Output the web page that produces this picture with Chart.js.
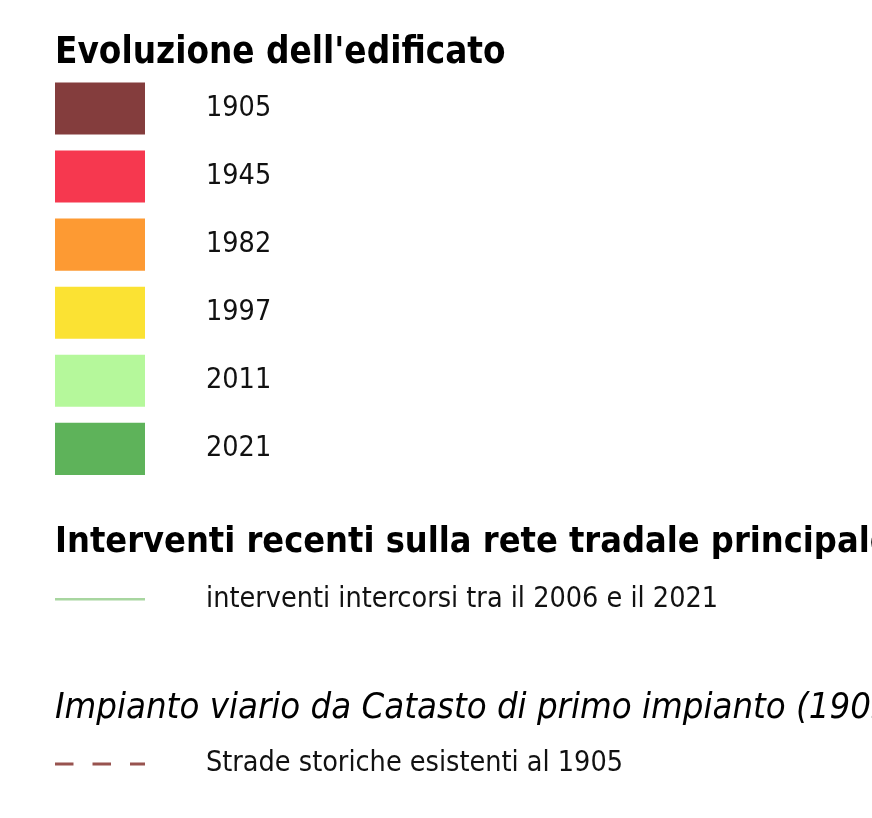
<!DOCTYPE html>
<html>
<head>
<meta charset="utf-8">
<script src="https://cdn.jsdelivr.net/npm/chart.js@4.4.1/dist/chart.umd.min.js"></script>
<style>
  html, body { margin: 0; padding: 0; background: #fff; width: 872px; height: 818px; overflow: hidden; }
  .box { position: absolute; left: 0; width: 960px; }
  #b1 { top: 0; height: 500px; }
  #b2 { top: 490px; height: 157px; }
  #b3 { top: 655px; height: 156px; }
</style>
</head>
<body>
<div class="box" id="b1"><canvas id="c1"></canvas></div>
<div class="box" id="b2"><canvas id="c2"></canvas></div>
<div class="box" id="b3"><canvas id="c3"></canvas></div>
<script>
// ====== legend data ======
const years = ['1905', '1945', '1982', '1997', '2011', '2021']
const yearColors = ['#843d3d', '#f6384f', '#fd9a33', '#fbe233', '#b5f89b', '#5eb35a']
const roadLabel = ['interventi intercorsi tra il 2006 e il 2021']
const roadColor = '#a8d6a0'
const histLabel = ['Strade storiche esistenti al 1905']
const histColor = '#98534f'

const titles = [
    "Evoluzione dell'edificato",
    'Interventi recenti sulla rete tradale principale',
    'Impianto viario da Catasto di primo impianto (1905)'
]

const labelFont = { family: 'DejaVu Sans Condensed', size: 28.5, lineHeight: 1.2 }

// labels axis on the right, from x = 145 to the canvas edge
// (an invisible tick mark of 61px pushes the text to x = 206)
// canvases are wider than the page so long headings get cut, not squeezed
const labelAxis = (labels) => ({
    type: 'category',
    labels: labels,
    position: 'right',
    offset: true,
    grid: { display: true, drawOnChartArea: false, drawTicks: true, tickLength: 61, color: 'rgba(0,0,0,0)' },
    border: { display: false },
    ticks: { padding: 0, color: '#111', font: labelFont },
    afterFit: (scale) => { scale.width = scale.chart.width - 145 }
})

const hiddenX = () => ({ type: 'linear', min: 0, max: 1, display: false })

// swatches for the building years
new Chart(document.getElementById('c1'), {
    type: 'bar',
    data: {
        labels: years,
        datasets: [{
            data: years.map(() => [0, 1]),
            backgroundColor: yearColors,
            borderWidth: 0,
            barPercentage: 52 / 68,
            categoryPercentage: 1
        }]
    },
    options: {
        indexAxis: 'y',
        responsive: true,
        maintainAspectRatio: false,
        animation: false,
        layout: { padding: { left: 55, right: 0, top: 0, bottom: 0 } },
        scales: { x: hiddenX(), y: labelAxis(years) },
        plugins: {
            legend: { display: false },
            tooltip: { enabled: false },
            title: {
                display: true, text: titles[0], align: 'start', color: '#000',
                font: { family: 'DejaVu Sans Condensed', weight: 'bold', size: 36.5, lineHeight: 1.12 },
                padding: { top: 33.5, bottom: 0 }
            }
        }
    }
})

// single line items
const lineItem = (id, title, titleFont, titlePad, label, color, width, dash) => new Chart(document.getElementById(id), {
    type: 'line',
    data: {
        datasets: [{
            data: [{ x: 0, y: label[0] }, { x: 1, y: label[0] }],
            borderColor: color,
            borderWidth: width,
            borderDash: dash,
            borderCapStyle: 'butt',
            pointRadius: 0
        }]
    },
    options: {
        responsive: true,
        maintainAspectRatio: false,
        animation: false,
        layout: { padding: { left: 55, right: 0, top: 0, bottom: 0 } },
        scales: { x: hiddenX(), y: labelAxis(label) },
        plugins: {
            legend: { display: false },
            tooltip: { enabled: false },
            title: {
                display: true, text: title, align: 'start', color: '#000',
                font: titleFont,
                padding: titlePad
            }
        }
    }
})

lineItem('c2', titles[1],
    { family: 'DejaVu Sans Condensed', weight: 'bold', size: 35.8, lineHeight: 1.2 }, { top: 31.5, bottom: 4.1 },
    roadLabel, roadColor, 2.5, [])
lineItem('c3', titles[2],
    { family: 'DejaVu Sans Condensed', weight: 'normal', style: 'italic', size: 36.2, lineHeight: 1.2 }, { top: 32.3, bottom: 3.3 },
    histLabel, histColor, 3, [18.5, 19])
</script>
</body>
</html>
